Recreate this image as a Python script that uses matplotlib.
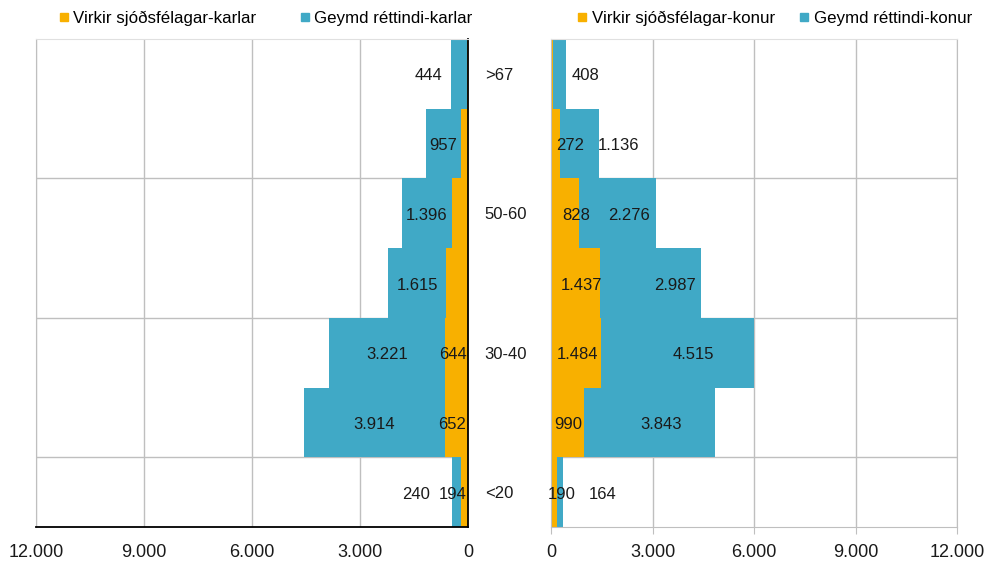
import matplotlib.pyplot as plt
from matplotlib.lines import Line2D
from matplotlib.ticker import FuncFormatter

plt.rcParams['font.family'] = ['Liberation Sans', 'DejaVu Sans']
plt.rcParams['font.size'] = 12

# Aldurshópar, neðst til efst
aldur = ["<20", "20-30", "30-40", "40-50", "50-60", "60-67", ">67"]

# Karlar
virkir_karlar = [194, 652, 644, 600, 440, 200, 20]
geymd_karlar = [240, 3914, 3221, 1615, 1396, 957, 444]

# Konur
virkir_konur = [190, 990, 1484, 1437, 828, 272, 50]
geymd_konur = [164, 3843, 4515, 2987, 2276, 1136, 408]

# Hvaða gildi fá merkimiða
syna_virkir_karlar = [True, True, True, False, False, False, False]
syna_virkir_konur = [True, True, True, True, True, True, False]

# Staðsetning merkimiða (x-gildi) þar sem þeir eru færðir frá miðju
merki_vk_karlar = {0: 417, 1: 453, 2: 408}
merki_gr_karlar = {0: 1444, 6: 1102, 5: 700}
merki_vk_konur = {0: 316, 1: 502, 2: 783, 3: 887, 4: 745, 5: 576}
merki_gr_konur = {0: 1522, 1: 3250, 2: 4222, 3: 3651, 4: 2297, 5: 1995, 6: 1005}

APPELSINA = "#F8B000"
BLAR = "#40A9C6"
GRID = "#BFBFBF"
TEXTI = "#1a1a1a"

fig = plt.figure(figsize=(9.91, 5.61), dpi=100)
ax_k = fig.add_axes([36 / 991, 34 / 561, 432 / 991, 488 / 561])
ax_f = fig.add_axes([551 / 991, 34 / 561, 406 / 991, 488 / 561])

y = list(range(len(aldur)))


def punktur(v, pos=None):
    return f"{int(v):,}".replace(",", ".")


def teikna(ax, virkir, geymd, syna_virkir, merki_v, merki_g):
    ax.barh(y, virkir, height=1.0, color=APPELSINA, zorder=2)
    ax.barh(y, geymd, left=virkir, height=1.0, color=BLAR, zorder=2)
    for i in y:
        if syna_virkir[i]:
            xv = merki_v.get(i, virkir[i] / 2)
            ax.text(xv, i - 0.03, punktur(virkir[i]), ha="center",
                    va="center", fontsize=12, color=TEXTI, zorder=3)
        xg = merki_g.get(i, virkir[i] + geymd[i] / 2)
        ax.text(xg, i - 0.03, punktur(geymd[i]), ha="center", va="center",
                fontsize=12, color=TEXTI, zorder=3)
    ax.set_ylim(-0.5, len(aldur) - 0.5)
    ax.set_xticks([0, 3000, 6000, 9000, 12000])
    ax.xaxis.set_major_formatter(FuncFormatter(punktur))
    ax.grid(axis="x", color=GRID, linewidth=1, zorder=0)
    for b in (0.5, 2.5, 4.5):
        ax.axhline(b, color=GRID, linewidth=1, zorder=0)
    ax.set_axisbelow(True)
    for s in ax.spines.values():
        s.set_color(GRID)
    ax.spines["top"].set_color("#E0E0E0")


teikna(ax_k, virkir_karlar, geymd_karlar, syna_virkir_karlar,
       merki_vk_karlar, merki_gr_karlar)
teikna(ax_f, virkir_konur, geymd_konur, syna_virkir_konur,
       merki_vk_konur, merki_gr_konur)

# Karlar: ás speglaður, svartir ásar hægra megin og neðst
ax_k.set_xlim(12000, 0)
ax_k.spines["right"].set_color("black")
ax_k.spines["right"].set_linewidth(1.3)
ax_k.spines["bottom"].set_color("black")
ax_k.spines["bottom"].set_linewidth(1.3)
ax_k.tick_params(axis="x", length=0, pad=12, labelsize=13)
ax_k.yaxis.tick_right()
ax_k.set_yticks([0, 2, 4, 6])
ax_k.set_yticklabels([aldur[i] for i in (0, 2, 4, 6)])
ax_k.tick_params(axis="y", length=0, pad=12, labelsize=12)

# Konur
ax_f.set_xlim(0, 12000)
ax_f.set_yticks([])
ax_f.tick_params(axis="x", length=5, color=GRID, pad=7, labelsize=13)

for ax in (ax_k, ax_f):
    for lab in ax.get_xticklabels() + ax.get_yticklabels():
        lab.set_color(TEXTI)


def ferningur(c):
    return Line2D([], [], marker="s", linestyle="none", markersize=6,
                  markerfacecolor=c, markeredgecolor=c)


fig.legend([ferningur(APPELSINA), ferningur(BLAR)],
           ["Virkir sjóðsfélagar-karlar", "Geymd réttindi-karlar"],
           loc="center", bbox_to_anchor=(266 / 991, 1 - 18 / 561), ncol=2,
           frameon=False, fontsize=12.2, handlelength=0.5, handletextpad=0.3,
           columnspacing=2.6)
fig.legend([ferningur(APPELSINA), ferningur(BLAR)],
           ["Virkir sjóðsfélagar-konur", "Geymd réttindi-konur"],
           loc="center", bbox_to_anchor=(775 / 991, 1 - 18 / 561), ncol=2,
           frameon=False, fontsize=12.2, handlelength=0.5, handletextpad=0.3,
           columnspacing=1.5)

fig.savefig("out.png", dpi=100)
